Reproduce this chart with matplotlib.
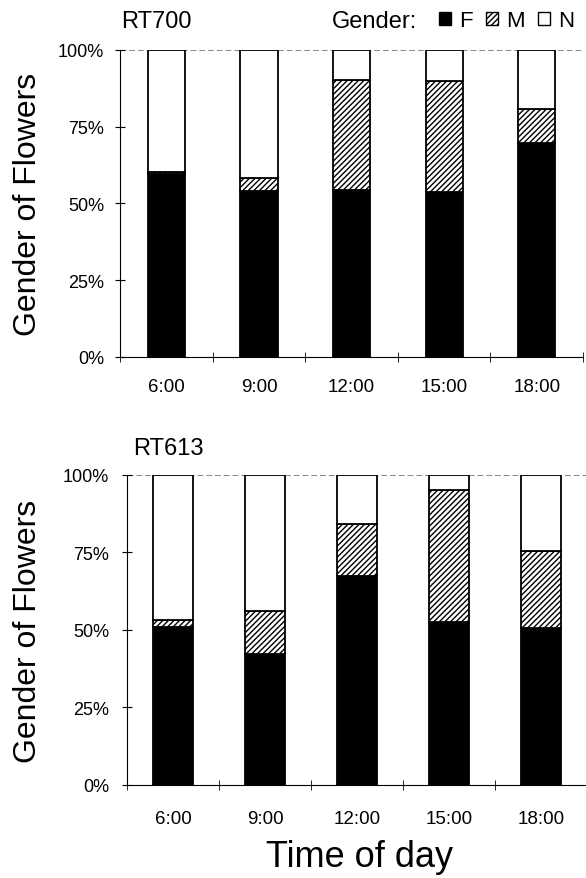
import matplotlib
matplotlib.use("Agg")
import matplotlib.pyplot as plt
from matplotlib.patches import Patch

plt.rcParams['font.family'] = ['Liberation Sans', 'DejaVu Sans']
plt.rcParams['hatch.linewidth'] = 1.0

times = ["6:00", "9:00", "12:00", "15:00", "18:00"]

# percent of flowers by gender
rt700_f = [59.5, 53.9, 54.2, 53.8, 69.7]
rt700_m = [0.6, 4.4, 35.9, 36.2, 11.2]
rt613_f = [50.9, 42.3, 67.3, 52.4, 50.5]
rt613_m = [2.3, 13.6, 16.6, 42.5, 25.0]


def draw(ax, f, m, width, xpad, ypad):
    x = [i + 0.5 for i in range(len(times))]
    n = [100 - a - b for a, b in zip(f, m)]
    ax.bar(x, f, width, color="black", edgecolor="black", linewidth=1.3)
    ax.bar(x, m, width, bottom=f, color="white", edgecolor="black",
           hatch="//////", linewidth=1.3)
    bot = [a + b for a, b in zip(f, m)]
    ax.bar(x, n, width, bottom=bot, color="white", edgecolor="black", linewidth=1.3)
    ax.set_xlim(0, 5)
    ax.set_ylim(0, 100)
    ax.set_xticks(x)
    ax.set_xticklabels(times, fontsize=13.5)
    ax.set_xticks(range(6), minor=True)
    ax.tick_params(axis="x", which="major", length=0, pad=xpad)
    ax.tick_params(axis="x", which="minor", direction="inout", length=7)
    ax.set_yticks([0, 25, 50, 75, 100])
    ax.set_yticklabels(["0%", "25%", "50%", "75%", "100%"], fontsize=13)
    ax.tick_params(axis="y", direction="inout", length=7, pad=ypad)
    ax.spines["top"].set_visible(False)
    ax.spines["right"].set_visible(False)
    ax.axhline(100, color="#888888", linestyle=(0, (6, 3)), linewidth=0.7, zorder=0)


fig = plt.figure(figsize=(5.86, 8.79), dpi=100)
ax1 = fig.add_axes([0.205, 0.593, 0.79, 0.349])
ax2 = fig.add_axes([0.217, 0.106, 0.785, 0.353])
draw(ax1, rt700_f, rt700_m, 0.4, 15, 8)
draw(ax2, rt613_f, rt613_m, 0.43, 18, 9.5)

fig.text(0.048, 0.767, "Gender of Flowers", fontsize=23, rotation=90,
         ha="center", va="center")
fig.text(0.048, 0.282, "Gender of Flowers", fontsize=23, rotation=90,
         ha="center", va="center")

fig.text(0.207, 0.975, "RT700", fontsize=17, va="center")
fig.text(0.227, 0.489, "RT613", fontsize=17, va="center")
fig.text(0.614, 0.024, "Time of day", fontsize=26, ha="center", va="center")

fig.text(0.567, 0.975, "Gender:", fontsize=17, va="center")
handles = [Patch(facecolor="black", edgecolor="black"),
           Patch(facecolor="white", edgecolor="black", hatch="//////"),
           Patch(facecolor="white", edgecolor="black")]
fig.legend(handles, ["F", "M", "N"], loc="center left", bbox_to_anchor=(0.749, 0.975),
           ncol=3, frameon=False, fontsize=16, handlelength=0.55, handleheight=0.55,
           handletextpad=0.35, columnspacing=0.6, borderpad=0, borderaxespad=0)

fig.savefig("out.png", dpi=100)
